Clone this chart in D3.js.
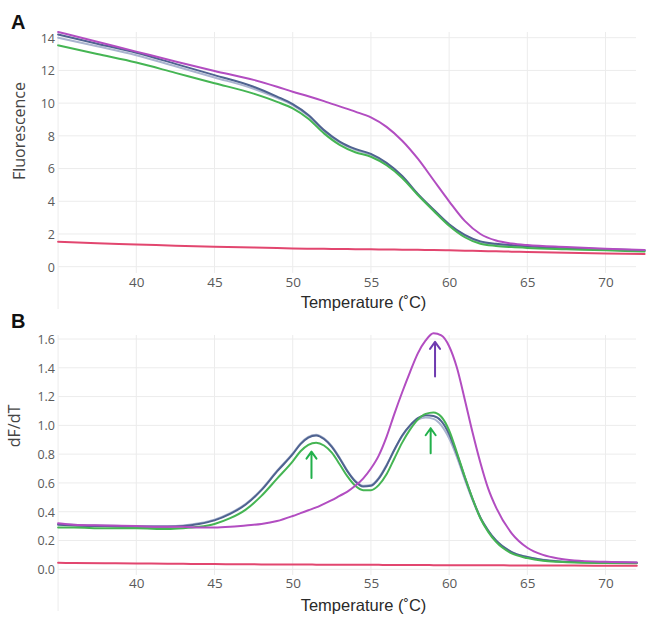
<!DOCTYPE html>
<html>
<head>
<meta charset="utf-8">
<script src="https://cdn.jsdelivr.net/npm/d3@7/dist/d3.min.js"></script>
<style>
  html, body { margin: 0; padding: 0; background: #fff; }
  svg { display: block; }
</style>
</head>
<body>
<svg id="chart" width="661" height="621"></svg>
<script>
// ---------- DATA ----------
const xTicks = [40, 45, 50, 55, 60, 65, 70];
const xGrid = [35, 40, 45, 50, 55, 60, 65, 70];
const yTicksA = [0, 2, 4, 6, 8, 10, 12, 14];
const yTicksB = [0, 0.2, 0.4, 0.6, 0.8, 1.0, 1.2, 1.4, 1.6];

// Panel A: melt curves (Fluorescence)
const tempA = [35, 37.5, 40, 42.5, 45, 47.5, 49, 50, 51, 52, 53, 54, 55, 56, 57, 58, 59, 60, 61, 62, 63, 64, 65, 67.5, 70, 72.5];
const fluorLight   = [14.0, 13.48, 12.93, 12.25, 11.57, 10.88, 10.32, 9.88, 9.22, 8.3, 7.6, 7.15, 6.85, 6.3, 5.5, 4.42, 3.47, 2.57, 1.9, 1.5, 1.36, 1.28, 1.22, 1.12, 1.04, 0.97];
const fluorDark    = [14.2, 13.63, 13.08, 12.4, 11.71, 11.0, 10.4, 9.94, 9.28, 8.35, 7.65, 7.2, 6.9, 6.35, 5.55, 4.45, 3.5, 2.6, 1.95, 1.55, 1.4, 1.32, 1.25, 1.15, 1.07, 1.0];
const fluorGreen   = [13.53, 13.0, 12.48, 11.85, 11.22, 10.58, 10.08, 9.68, 9.05, 8.15, 7.45, 7.0, 6.72, 6.2, 5.42, 4.38, 3.42, 2.5, 1.8, 1.4, 1.27, 1.2, 1.15, 1.07, 1.0, 0.93];
const fluorMagenta = [14.35, 13.75, 13.15, 12.55, 11.97, 11.42, 11.0, 10.7, 10.42, 10.12, 9.8, 9.48, 9.13, 8.55, 7.7, 6.6, 5.3, 4.0, 2.8, 2.0, 1.6, 1.42, 1.32, 1.2, 1.1, 1.02];
const fluorRed     = [1.52, 1.43, 1.36, 1.28, 1.22, 1.17, 1.14, 1.12, 1.1, 1.09, 1.08, 1.07, 1.06, 1.05, 1.04, 1.03, 1.02, 1.0, 0.98, 0.96, 0.94, 0.92, 0.9, 0.85, 0.81, 0.77];

// Panel B: derivative curves (dF/dT)
const tempB = [35, 36, 38, 40, 42, 43, 44, 45, 46, 47, 48, 49, 50, 50.5, 51, 51.5, 52, 52.5, 53, 53.5, 54, 54.5, 55, 55.5, 56, 56.5, 57, 57.5, 58, 58.5, 59, 59.5, 60, 60.5, 61, 61.5, 62, 62.5, 63, 64, 65, 66, 67, 68, 70, 72];
const dfLight   = [0.315, 0.31, 0.305, 0.3, 0.3, 0.305, 0.32, 0.345, 0.39, 0.455, 0.555, 0.685, 0.805, 0.875, 0.92, 0.935, 0.91, 0.855, 0.775, 0.685, 0.615, 0.58, 0.585, 0.635, 0.725, 0.83, 0.925, 0.995, 1.04, 1.055, 1.045, 1.0, 0.91, 0.78, 0.625, 0.48, 0.355, 0.265, 0.2, 0.12, 0.085, 0.066, 0.056, 0.051, 0.048, 0.046];
const dfDark    = [0.31, 0.305, 0.3, 0.295, 0.295, 0.3, 0.315, 0.34, 0.385, 0.45, 0.55, 0.68, 0.8, 0.87, 0.915, 0.93, 0.905, 0.85, 0.77, 0.68, 0.61, 0.575, 0.58, 0.63, 0.72, 0.83, 0.93, 1.0, 1.05, 1.07, 1.065, 1.03, 0.94, 0.8, 0.64, 0.49, 0.36, 0.27, 0.2, 0.12, 0.085, 0.065, 0.055, 0.05, 0.047, 0.045];
const dfGreen   = [0.29, 0.29, 0.285, 0.285, 0.28, 0.285, 0.295, 0.315, 0.355, 0.415, 0.51, 0.63, 0.75, 0.82, 0.865, 0.88, 0.86, 0.81, 0.73, 0.645, 0.58, 0.55, 0.55, 0.585, 0.66, 0.77, 0.88, 0.97, 1.04, 1.08, 1.09, 1.06, 0.965, 0.81, 0.645, 0.49, 0.355, 0.26, 0.19, 0.11, 0.078, 0.06, 0.052, 0.047, 0.044, 0.042];
const dfMagenta = [0.32, 0.31, 0.305, 0.3, 0.295, 0.295, 0.29, 0.29, 0.295, 0.305, 0.315, 0.335, 0.37, 0.39, 0.41, 0.43, 0.455, 0.48, 0.51, 0.54, 0.58, 0.63, 0.7, 0.79, 0.92, 1.08, 1.23, 1.37, 1.5, 1.59, 1.64, 1.625, 1.55, 1.4, 1.18, 0.95, 0.74, 0.56, 0.43, 0.25, 0.15, 0.1, 0.075, 0.062, 0.052, 0.048];
const dfRed     = [0.045, 0.044, 0.042, 0.04, 0.039, 0.038, 0.037, 0.036, 0.035, 0.035, 0.034, 0.034, 0.033, 0.033, 0.033, 0.032, 0.032, 0.032, 0.032, 0.031, 0.031, 0.031, 0.031, 0.031, 0.03, 0.03, 0.03, 0.03, 0.03, 0.03, 0.029, 0.029, 0.029, 0.029, 0.029, 0.028, 0.028, 0.028, 0.028, 0.027, 0.027, 0.027, 0.026, 0.026, 0.025, 0.024];

// Arrow annotations in panel B: [temperature, tail value, head value]
const arrowsB = [
  { t: 51.2, from: 0.634, to: 0.817, color: "#22b04b" },
  { t: 58.82, from: 0.806, to: 0.98, color: "#22b04b" },
  { t: 59.1, from: 1.34, to: 1.58, color: "#6f3bb0" }
];

const seriesColors = {
  light: "#aab4cf",
  dark: "#4f6390",
  green: "#45b553",
  magenta: "#b24dc1",
  red: "#e2466f"
};

// ---------- DRAW ----------
const svg = d3.select("#chart");
const x = d3.scaleLinear().domain([35, 72]).range([58.1, 636.8]);

function panel(opts) {
  const g = svg.append("g");
  const y = d3.scaleLinear().domain(opts.yDomain).range(opts.yRange);
  const gridColor = "#ececec";

  // horizontal gridlines
  g.append("g").selectAll("line").data(opts.yTicks).join("line")
    .attr("x1", x(35)).attr("x2", 636)
    .attr("y1", d => y(d)).attr("y2", d => y(d))
    .attr("stroke", gridColor).attr("stroke-width", 1);
  // vertical gridlines
  g.append("g").selectAll("line").data(xGrid).join("line")
    .attr("x1", d => x(d)).attr("x2", d => x(d))
    .attr("y1", opts.gridTop).attr("y2", d => d === 35 ? opts.gridBottom + 36 : opts.gridBottom)
    .attr("stroke", gridColor).attr("stroke-width", 1);

  // y axis labels
  const ya = d3.axisLeft(y).tickValues(opts.yTicks).tickSize(0).tickPadding(0)
    .tickFormat(opts.yFormat);
  const yg = g.append("g").attr("transform", "translate(55,0)").call(ya);
  yg.select(".domain").remove();
  yg.selectAll("text").attr("font-family", "'Open Sans', sans-serif")
    .attr("font-size", 12.5).attr("fill", "#5a5a5a").attr("dy", "0.35em");

  // x axis labels
  const xa = d3.axisBottom(x).tickValues(xTicks).tickSize(0).tickPadding(0).tickFormat(d3.format("d"));
  const xg = g.append("g").attr("transform", `translate(0,${opts.xLabelY})`).call(xa);
  xg.select(".domain").remove();
  xg.selectAll("text").attr("font-family", "'Open Sans', sans-serif")
    .attr("font-size", 13.5).attr("fill", "#5a5a5a").attr("dy", 0);

  // x title
  g.append("text").attr("x", 363.5).attr("y", opts.xTitleY)
    .attr("text-anchor", "middle").attr("font-family", "'Liberation Sans', Arial, sans-serif")
    .attr("font-size", 16.5).attr("fill", "#2a2a2a").text("Temperature (\u02DAC)");

  // y title
  g.append("text")
    .attr("transform", `translate(${opts.yTitleX},${opts.yTitleY}) rotate(-90)`)
    .attr("text-anchor", "middle").attr("font-family", "'Open Sans', sans-serif")
    .attr("font-size", 16).attr("fill", "#444").text(opts.yTitle);

  // panel letter
  g.append("text").attr("x", 11).attr("y", opts.letterY)
    .attr("font-family", "'Liberation Sans', Arial, sans-serif").attr("font-weight", "bold")
    .attr("font-size", 20).attr("fill", "#111").text(opts.letter);

  // lines
  const line = d3.line().x(d => x(d[0])).y(d => y(d[1])).curve(d3.curveMonotoneX);
  opts.series.forEach(s => {
    g.append("path")
      .datum(opts.temps.map((t, i) => [t, s.values[i]]))
      .attr("d", line).attr("fill", "none")
      .attr("stroke", s.color).attr("stroke-width", 2)
      .attr("stroke-linejoin", "round").attr("stroke-linecap", "round");
  });
  return { g, y };
}

const pA = panel({
  yDomain: [0, 14], yRange: [266.7, 37.7], yTicks: yTicksA, yFormat: d3.format("d"),
  gridTop: 32, gridBottom: 273, xLabelY: 287, xTitleY: 307.5,
  yTitle: "Fluorescence", yTitleX: 25, yTitleY: 131,
  letter: "A", letterY: 29, temps: tempA,
  series: [
    { values: fluorLight, color: seriesColors.light },
    { values: fluorDark, color: seriesColors.dark },
    { values: fluorGreen, color: seriesColors.green },
    { values: fluorMagenta, color: seriesColors.magenta },
    { values: fluorRed, color: seriesColors.red }
  ]
});

const pB = panel({
  yDomain: [0, 1.6], yRange: [569.3, 339], yTicks: yTicksB, yFormat: d3.format(".1f"),
  gridTop: 335, gridBottom: 575, xLabelY: 588, xTitleY: 611,
  yTitle: "dF/dT", yTitleX: 19.5, yTitleY: 426,
  letter: "B", letterY: 328, temps: tempB,
  series: [
    { values: dfLight, color: seriesColors.light },
    { values: dfDark, color: seriesColors.dark },
    { values: dfGreen, color: seriesColors.green },
    { values: dfMagenta, color: seriesColors.magenta },
    { values: dfRed, color: seriesColors.red }
  ]
});

// arrows in panel B
arrowsB.forEach(a => {
  const ax = x(a.t), y0 = pB.y(a.from), y1 = pB.y(a.to);
  pB.g.append("path")
    .attr("d", `M${ax},${y0} L${ax},${y1} M${ax - 5},${y1 + 7} L${ax},${y1} L${ax + 5},${y1 + 7}`)
    .attr("fill", "none").attr("stroke", a.color).attr("stroke-width", 2)
    .attr("stroke-linecap", "round").attr("stroke-linejoin", "round");
});
</script>
</body>
</html>
